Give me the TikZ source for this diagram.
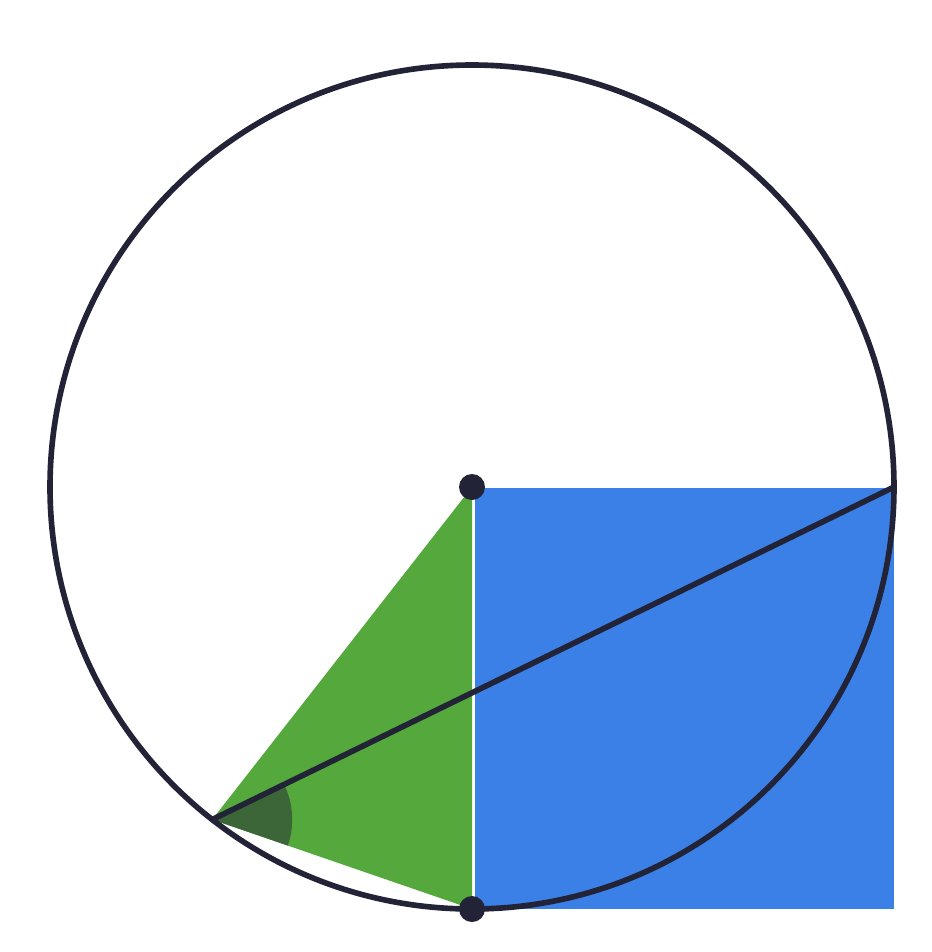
\documentclass[tikz,border=0pt]{standalone}
\usetikzlibrary{angles, calc}

\definecolor{ink}{RGB}{35,35,55}
\definecolor{squareblue}{RGB}{59,128,231}
\definecolor{wedgegreen}{RGB}{84,168,60}
\definecolor{anglegreen}{RGB}{60,102,56}

\begin{document}
\begin{tikzpicture}[
        rim/.style={draw=ink, line width=1.6pt},
        chord/.style={draw=ink, line width=1.6pt, line cap=round},
        dot/.style={circle, fill=ink, minimum size=0.26cm, inner sep=0pt},
    ]
        \useasboundingbox (0,0) rectangle (9.32,-9.52);

        % Centre and the points on the circle
        \coordinate (O) at (4.72,-4.87);
        \coordinate (B) at ($(O)+(270:4.22)$);
        \coordinate (R) at ($(O)+(0:4.22)$);
        \coordinate (P) at ($(O)+(232:4.22)$);

        % Draw the square on the radius
        \fill[squareblue] (4.75,-4.88) rectangle (8.94,-9.09);

        % Draw the triangle and its angle
        \fill[wedgegreen] (O) -- (P) -- (B) -- cycle;
        \pic[fill=anglegreen, angle radius=0.8cm] {angle = B--P--R};

        % Draw the circle and the chord
        \draw[rim] (O) circle (4.22);
        \draw[chord] (P) -- (R);

        % Draw the dots
        \node[dot] (O-dot) at (O) {};
        \node[dot] (B-dot) at (B) {};
    \end{tikzpicture}
\end{document}
